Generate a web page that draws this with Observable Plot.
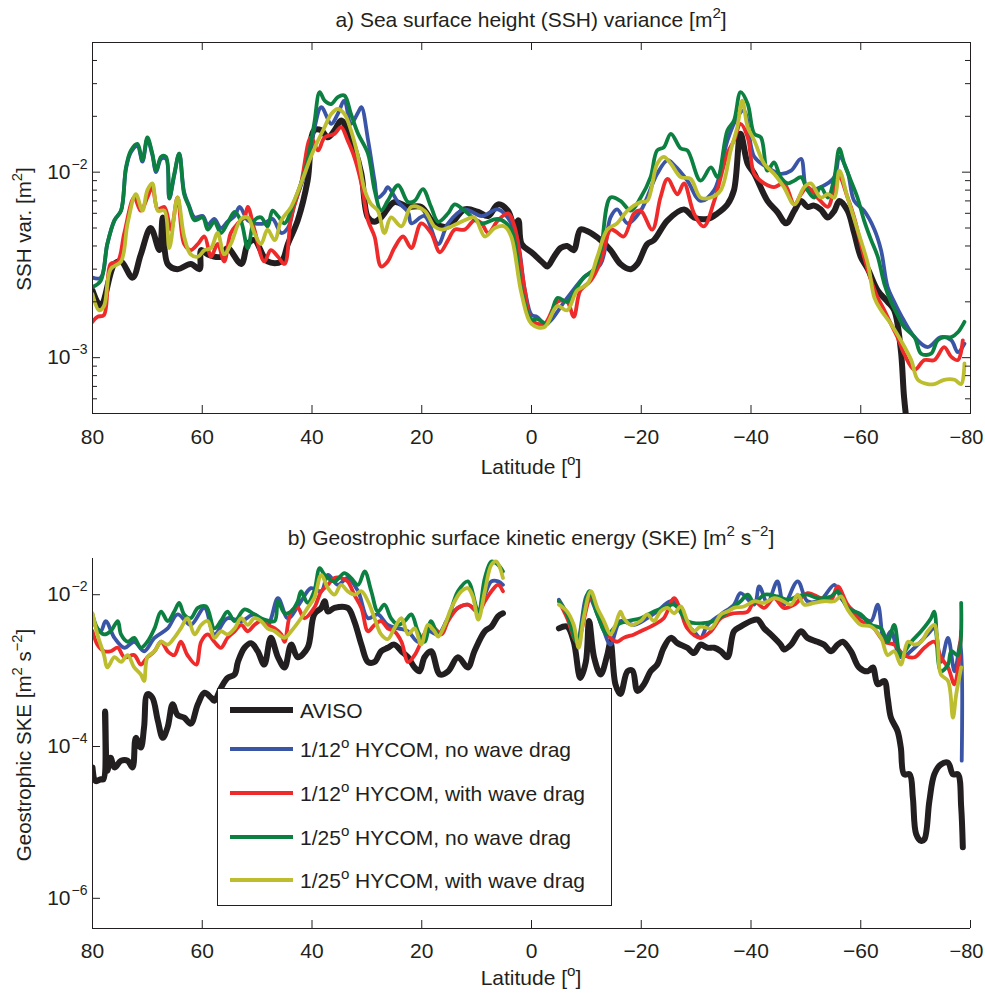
<!DOCTYPE html>
<html><head><meta charset="utf-8">
<script src="https://cdn.jsdelivr.net/npm/d3@7"></script>
<script src="https://cdn.jsdelivr.net/npm/@observablehq/plot@0.6"></script>
<style>body{margin:0;background:#fff}svg{display:block}</style>
</head><body><div id="chart"></div>
<script>
// ---------- series & styles ----------
const seriesNames = ["AVISO", "1/12° HYCOM, no wave drag", "1/12° HYCOM, with wave drag", "1/25° HYCOM, no wave drag", "1/25° HYCOM, with wave drag"];
const legendParts = [["AVISO"], ["1/12", {sup: "o"}, " HYCOM, no wave drag"], ["1/12", {sup: "o"}, " HYCOM, with wave drag"], ["1/25", {sup: "o"}, " HYCOM, no wave drag"], ["1/25", {sup: "o"}, " HYCOM, with wave drag"]];
const seriesColors = ["#231f20", "#3b55a6", "#ee2a2a", "#0c8040", "#bdbd30"];
const xTicks = [80, 60, 40, 20, 0, -20, -40, -60, -80];
const sshMajor = [1e-3, 1e-2];
const sshMinor = [6e-4, 7e-4, 8e-4, 9e-4, 2e-3, 3e-3, 4e-3, 5e-3, 6e-3, 7e-3, 8e-3, 9e-3, 2e-2, 3e-2, 4e-2];
const skeMajor = [1e-6, 1e-4, 1e-2];

// ---------- a) SSH variance [m^2], pairs [latitude, value] ----------
const sshAviso = [[80,0.0023],[78.5,0.0019],[76,0.0032],[74.8,0.0033],[72.7,0.0027],[71.2,0.0036],[69.4,0.005],[67.8,0.0038],[67.2,0.0057],[66.3,0.0032],[64.5,0.003],[62.1,0.0032],[60.5,0.003],[60.2,0.0038],[59,0.0036],[56.6,0.0035],[55.4,0.0039],[52.9,0.0032],[51.7,0.0041],[50.5,0.0043],[48.1,0.0033],[45.6,0.0033],[44.4,0.0041],[42.6,0.0055],[40.8,0.009],[39.6,0.0168],[38.3,0.0168],[37.1,0.0154],[35.9,0.0168],[34.7,0.019],[33.5,0.0168],[32.3,0.0136],[31,0.0098],[29.8,0.0057],[28.6,0.0054],[27.4,0.0057],[25,0.0069],[22.5,0.0065],[20.1,0.0065],[17.7,0.0053],[15.2,0.0051],[12.2,0.0063],[9.7,0.0061],[7.9,0.0058],[6.1,0.0067],[4.3,0.0062],[3.1,0.0051],[2.4,0.0055],[1.8,0.0041],[0,0.0037],[-2.3,0.0032],[-2.9,0.0031],[-4.1,0.0035],[-5.3,0.0039],[-6.5,0.004],[-7.7,0.0038],[-8.9,0.0049],[-10.2,0.0048],[-12.6,0.0043],[-14.4,0.0038],[-16.2,0.0032],[-18.1,0.003],[-19.3,0.0032],[-21.1,0.0041],[-22.3,0.0043],[-24.8,0.0055],[-27.8,0.0063],[-29.6,0.0057],[-32.1,0.0056],[-33.9,0.006],[-35.7,0.0067],[-36.9,0.008],[-38.1,0.0161],[-39.4,0.0111],[-40.6,0.0098],[-43,0.007],[-44.8,0.0061],[-46.4,0.0053],[-47.9,0.0062],[-49.1,0.007],[-50.3,0.0065],[-51.5,0.0066],[-52.7,0.0063],[-54,0.0057],[-55.2,0.0062],[-56.1,0.007],[-57.6,0.0062],[-58.8,0.0047],[-60,0.0035],[-61.3,0.003],[-63.1,0.0023],[-64.9,0.002],[-66.1,0.0018],[-67.3,0.0011],[-67.9,0.00061],[-68.9,0.00033]];
const sshBlue = [[80,0.0027],[78.5,0.0027],[77.3,0.0041],[76,0.0055],[74.8,0.0062],[73.9,0.0104],[73,0.0128],[71.8,0.0138],[70.9,0.0114],[70,0.015],[69.1,0.0124],[68.4,0.01],[67.5,0.0118],[66.6,0.0118],[66,0.0072],[65.1,0.0096],[64.2,0.0126],[63.3,0.0078],[62.4,0.0066],[61.4,0.0057],[59.9,0.0058],[59,0.0052],[57.8,0.0056],[56.6,0.005],[55.4,0.0054],[54.1,0.0058],[53.2,0.0065],[51.7,0.0055],[50.5,0.0053],[48.7,0.0053],[47.2,0.0056],[45.6,0.0047],[44.4,0.005],[43.2,0.0067],[42,0.0085],[40.8,0.011],[39.6,0.017],[38.3,0.0224],[36.5,0.0182],[35.3,0.0206],[34.1,0.0243],[32.9,0.0182],[31.6,0.021],[31,0.0224],[29.8,0.015],[28.6,0.009],[28,0.0073],[26.8,0.0078],[26.2,0.0083],[24.3,0.0069],[22.5,0.0061],[21.9,0.0053],[19.5,0.0058],[17,0.0041],[15.2,0.0053],[12.2,0.0063],[9.1,0.0058],[6.1,0.0063],[3.1,0.0049],[1.2,0.0023],[0,0.0017],[-1,0.00166],[-2.6,0.00152],[-6.5,0.0021],[-9.5,0.0027],[-12.6,0.0032],[-14.4,0.0057],[-15.6,0.0063],[-17.5,0.0053],[-19.9,0.0062],[-22.9,0.0098],[-24.8,0.0116],[-26,0.0109],[-28.4,0.009],[-30.8,0.007],[-33.3,0.008],[-35.7,0.0148],[-37.5,0.0198],[-38.7,0.0215],[-40.6,0.0121],[-43,0.0106],[-45.4,0.0098],[-47.3,0.0102],[-49.1,0.0118],[-50.3,0.008],[-52.7,0.0083],[-55.2,0.0094],[-56.1,0.0121],[-57.6,0.01],[-58.8,0.007],[-60.6,0.0062],[-62.5,0.0049],[-63.7,0.0038],[-64.9,0.0024],[-66.1,0.002],[-67.3,0.0017],[-69.8,0.00129],[-72.2,0.00114],[-74.6,0.00129],[-76.5,0.00124],[-77.7,0.00107],[-78.9,0.00119]];
const sshRed = [[80,0.00156],[79.1,0.00166],[77.9,0.0017],[76.7,0.0032],[75.4,0.0033],[74.2,0.0047],[72.4,0.0073],[71.2,0.0062],[70,0.0073],[69.1,0.0083],[68.1,0.0063],[66.9,0.0065],[65.7,0.0049],[64.5,0.0073],[63.3,0.0041],[62.1,0.0038],[60.8,0.0041],[59.6,0.0045],[58.4,0.0035],[57.2,0.0041],[56,0.0033],[54.8,0.0047],[53.5,0.0053],[52.3,0.0057],[51.7,0.0065],[50.5,0.0049],[48.7,0.0033],[47.5,0.0038],[46.2,0.0035],[45,0.0032],[43.8,0.0057],[42,0.0087],[40.2,0.0154],[38.9,0.0131],[37.7,0.0154],[35.9,0.0161],[34.7,0.0175],[33.5,0.0148],[32.3,0.0121],[31,0.0087],[29.8,0.0055],[28.6,0.0045],[27.4,0.0031],[26.2,0.0033],[25,0.0039],[23.4,0.0045],[21.9,0.0039],[20.1,0.0053],[18.3,0.0047],[16.7,0.0037],[15.2,0.0043],[14,0.0049],[12.2,0.0049],[10.4,0.0055],[9.1,0.0053],[7.9,0.0047],[6.1,0.0055],[4.3,0.006],[3.1,0.0051],[1.2,0.0023],[0,0.00159],[-2.3,0.00152],[-4.7,0.002],[-6.5,0.002],[-7.7,0.00166],[-8.9,0.0023],[-10.8,0.0026],[-12.6,0.0033],[-14.4,0.0049],[-15.3,0.0048],[-16.8,0.0045],[-18.7,0.006],[-19.9,0.0062],[-22,0.0049],[-23.5,0.0073],[-24.8,0.0092],[-26.6,0.0076],[-27.8,0.0087],[-29.6,0.006],[-31.4,0.0051],[-33.3,0.007],[-35.7,0.0126],[-36.9,0.0148],[-38.1,0.0182],[-39.4,0.0154],[-40.6,0.0098],[-42.4,0.0087],[-44.2,0.0083],[-46,0.0087],[-47.9,0.0067],[-49.1,0.0076],[-50.3,0.0083],[-52.1,0.0073],[-54,0.0065],[-55.2,0.0083],[-56.1,0.0094],[-57.6,0.0073],[-58.8,0.0057],[-60.6,0.0035],[-61.9,0.0026],[-63.1,0.0021],[-64.3,0.0018],[-65.5,0.00152],[-66.7,0.00129],[-67.9,0.00105],[-69.8,0.00086],[-71.6,0.00097],[-73.4,0.00097],[-75.2,0.00114],[-76.5,0.00101],[-77.7,0.00097],[-78.6,0.00124]];
const sshGreen = [[80,0.0024],[78.5,0.0026],[77.3,0.0041],[76,0.0055],[74.8,0.0062],[73.9,0.0106],[73,0.0131],[71.8,0.0142],[70.9,0.0116],[70,0.0154],[69.1,0.0126],[68.4,0.0102],[67.5,0.0121],[66.6,0.0121],[66,0.0073],[65.1,0.0098],[64.2,0.0126],[63.3,0.0076],[62.4,0.0065],[61.4,0.0055],[59.9,0.0057],[59,0.0049],[57.8,0.0054],[56.6,0.0047],[55.4,0.0053],[54.1,0.0061],[52.9,0.0054],[51.7,0.0039],[50.5,0.0055],[49.3,0.0057],[48.1,0.0051],[47.2,0.0062],[46.2,0.0058],[45,0.0053],[43.2,0.007],[42,0.0087],[40.8,0.0116],[39.6,0.0182],[38.6,0.027],[37.7,0.0243],[36.5,0.0233],[35.3,0.0254],[34.1,0.0259],[32.9,0.0206],[31.6,0.0161],[29.8,0.0126],[28.6,0.008],[27.4,0.0062],[26.2,0.007],[24.3,0.0085],[22.5,0.0069],[21.3,0.007],[19.8,0.0081],[18.3,0.0065],[17,0.0054],[15.2,0.006],[14,0.0067],[12.2,0.0062],[9.1,0.0053],[6.1,0.0056],[3.7,0.0049],[1.8,0.0023],[0,0.0016],[-1,0.00162],[-2.9,0.00152],[-4.7,0.0021],[-6.5,0.002],[-8.3,0.0024],[-9.5,0.0027],[-11.4,0.003],[-12.6,0.0038],[-14.4,0.0073],[-16.2,0.007],[-18.1,0.0062],[-19.9,0.0073],[-21.7,0.0094],[-22.9,0.0131],[-24.1,0.0136],[-25.4,0.0161],[-27.2,0.0134],[-28.4,0.0131],[-30.8,0.009],[-32.7,0.0106],[-33.9,0.0094],[-35.7,0.0168],[-36.9,0.019],[-38.1,0.027],[-39.4,0.0233],[-40.6,0.0161],[-41.8,0.0154],[-43,0.0102],[-44.2,0.0113],[-45.4,0.0094],[-46.7,0.0087],[-47.9,0.009],[-49.1,0.0094],[-50.3,0.008],[-51.5,0.0073],[-52.7,0.0083],[-54,0.0073],[-55.2,0.0094],[-56.1,0.0134],[-57,0.0111],[-58.2,0.009],[-59.4,0.0073],[-60.6,0.0055],[-61.9,0.0043],[-63.1,0.0035],[-64.3,0.0025],[-65.5,0.002],[-66.7,0.0017],[-67.9,0.00146],[-69.8,0.00129],[-71,0.00105],[-72.8,0.00105],[-74,0.00124],[-75.2,0.00129],[-76.5,0.00129],[-77.7,0.00137],[-78.9,0.00156]];
const sshYellow = [[80,0.0022],[78.8,0.0018],[77.9,0.0019],[76.7,0.003],[74.8,0.0033],[73.6,0.0053],[72.1,0.0076],[70.9,0.0062],[70,0.008],[69.1,0.0087],[68.1,0.0062],[66.9,0.0062],[66,0.0039],[64.5,0.0073],[63.3,0.0045],[62.1,0.0036],[60.8,0.0035],[59.6,0.0038],[58.4,0.0039],[57.2,0.0047],[56,0.0036],[54.8,0.0041],[52.9,0.0056],[51.7,0.0057],[50.5,0.0047],[49.3,0.0041],[48.1,0.0049],[46.8,0.0043],[45.6,0.0055],[43.8,0.0065],[42,0.0087],[40.2,0.0121],[38.9,0.0148],[37.7,0.0175],[36.5,0.0206],[35.3,0.0219],[34.1,0.0206],[32.9,0.0168],[31.6,0.0121],[30.4,0.008],[29.2,0.0067],[28,0.0062],[26.8,0.0047],[25.6,0.0057],[23.7,0.0051],[21.9,0.0065],[19.5,0.0062],[17.7,0.0051],[16.4,0.0049],[14.6,0.0051],[12.2,0.0055],[10.4,0.0057],[8.5,0.0045],[6.7,0.005],[4.9,0.0051],[3.7,0.0045],[1.8,0.0022],[0,0.00152],[-2.3,0.00146],[-4.7,0.0019],[-6.5,0.0018],[-8.3,0.0023],[-10.2,0.0025],[-12,0.0035],[-13.8,0.0049],[-15.6,0.0053],[-17.5,0.0062],[-19.9,0.0069],[-21.1,0.007],[-22.9,0.0111],[-24.1,0.0121],[-25.4,0.0111],[-27.2,0.0094],[-29,0.0092],[-30.8,0.0073],[-32.7,0.0073],[-34.5,0.008],[-36.3,0.0131],[-37.5,0.0175],[-38.4,0.0243],[-39.4,0.0175],[-40.6,0.0148],[-42.4,0.0111],[-44.2,0.0098],[-46,0.0083],[-47.9,0.0067],[-49.7,0.0083],[-50.9,0.0087],[-52.7,0.0073],[-54,0.0076],[-55.2,0.0073],[-56.1,0.0102],[-57.6,0.0073],[-59.4,0.0049],[-61.3,0.0032],[-62.5,0.0021],[-63.7,0.0018],[-65.5,0.00152],[-67.3,0.00124],[-69.2,0.00097],[-70.4,0.00076],[-72.2,0.00072],[-73.4,0.00072],[-75.2,0.00076],[-77.1,0.00076],[-78.3,0.00072],[-78.9,0.00093]];

// ---------- b) Geostrophic SKE [m^2 s^-2], pairs [latitude, value]; null = no data ----------
const skeAviso = [[80,5.3e-5],[79.4,3.5e-5],[78.5,3.7e-5],[78,3.7e-5],[77.7,2.9e-4],[77.3,4.8e-5],[76.7,7.1e-5],[76,5.3e-5],[74.8,6.5e-5],[73.6,6.5e-5],[72.7,5.3e-5],[72.1,1.3e-4],[71.2,9.7e-5],[70.6,1.8e-4],[70,4.9e-4],[69.1,4.4e-4],[68.1,2.2e-4],[67.2,1.3e-4],[66.3,1.8e-4],[65.4,3.6e-4],[64.5,2.6e-4],[63.3,2.4e-4],[62.1,2.0e-4],[60.8,3.6e-4],[59.6,5.1e-4],[58.4,4.4e-4],[57.8,4.0e-4],[56.6,5.9e-4],[55.4,8.0e-4],[54.1,8.9e-4],[53.5,1.3e-3],[52.3,2.0e-3],[51.1,2.3e-3],[49.9,1.8e-3],[48.7,1.2e-3],[47.5,2.7e-3],[46.2,1.5e-3],[45,1.1e-3],[43.8,2.2e-3],[42.6,1.5e-3],[40.8,2.0e-3],[39.6,5.5e-3],[38.3,6.7e-3],[37.7,8.2e-3],[37.1,6.0e-3],[35.9,6.7e-3],[33.5,6.7e-3],[32.3,4.5e-3],[31,2.2e-3],[29.8,1.3e-3],[28.6,1.3e-3],[27.4,1.8e-3],[26.2,2.0e-3],[25,2.2e-3],[23.7,1.8e-3],[22.5,1.5e-3],[21.3,1.1e-3],[20.4,9.8e-4],[19.5,1.5e-3],[18.3,1.8e-3],[16.7,8.9e-4],[15.2,9.8e-4],[13.4,1.5e-3],[11.6,1.1e-3],[10.4,1.8e-3],[8.5,3.3e-3],[7.3,3.8e-3],[6.1,5.2e-3],[5.2,5.7e-3],[0,null],[-5,3.6e-3],[-6.5,3.8e-3],[-7.7,2.4e-3],[-8.9,8.0e-4],[-9.9,1.3e-3],[-10.5,4.5e-3],[-11.4,1.5e-3],[-12.6,8.9e-4],[-13.8,1.6e-3],[-14.4,2.4e-3],[-15.3,6.6e-4],[-16.2,4.9e-4],[-17.5,9.8e-4],[-18.4,1.0e-3],[-19.3,5.4e-4],[-20.5,6.6e-4],[-21.7,9.8e-4],[-22.9,1.2e-3],[-24.1,2.0e-3],[-25.4,2.7e-3],[-26.6,2.3e-3],[-28.4,2.0e-3],[-29.6,1.7e-3],[-30.8,2.2e-3],[-32.1,2.0e-3],[-33.3,2.0e-3],[-34.5,1.8e-3],[-35.7,1.5e-3],[-36.9,3.3e-3],[-38.1,3.8e-3],[-40,4.5e-3],[-41.2,4.7e-3],[-42.4,3.6e-3],[-43.6,3.0e-3],[-45.4,2.2e-3],[-46,1.9e-3],[-47.3,2.2e-3],[-49.1,3.3e-3],[-50.3,2.7e-3],[-52.1,2.4e-3],[-53.3,2.2e-3],[-54.6,1.8e-3],[-55.8,2.2e-3],[-56.7,2.4e-3],[-58.2,1.8e-3],[-59.7,1.1e-3],[-61.3,9.8e-4],[-62.2,1.1e-3],[-63.1,6.6e-4],[-64.3,7.3e-4],[-64.9,4.4e-4],[-65.5,2.4e-4],[-66.7,1.6e-4],[-67.3,9.7e-5],[-67.9,4.3e-5],[-68.9,4.3e-5],[-69.5,2.1e-5],[-70.1,7.0e-6],[-71,5.7e-6],[-71.6,6.0e-6],[-72.5,1.9e-5],[-73.4,4.3e-5],[-74.6,5.8e-5],[-75.9,6.1e-5],[-76.8,4.3e-5],[-77.7,4.3e-5],[-78.3,1.6e-5],[-78.6,4.7e-6]];
const skeBlue = [[80,4.5e-3],[78.5,3.3e-3],[77.6,4.5e-3],[76,2.7e-3],[74.2,2.0e-3],[72.4,2.4e-3],[70.6,1.8e-3],[68.7,2.7e-3],[66.3,3.6e-3],[64.5,5.5e-3],[62.1,4.0e-3],[59.6,6.7e-3],[57.8,3.0e-3],[55.4,4.9e-3],[52.9,4.5e-3],[50.5,5.5e-3],[48.1,4.0e-3],[46.2,9.0e-3],[44.4,4.9e-3],[42,8.2e-3],[40.2,1.22e-2],[38.3,1.11e-2],[37.1,1.83e-2],[35.3,1.35e-2],[33.5,1.66e-2],[31.6,1.11e-2],[29.8,4.9e-3],[28,5.5e-3],[26.2,4.0e-3],[24.3,3.6e-3],[22.5,3.3e-3],[20.7,2.4e-3],[18.9,3.3e-3],[17,3.0e-3],[15.2,4.9e-3],[13.4,6.7e-3],[11.6,7.4e-3],[9.7,6.0e-3],[8.5,1.0e-2],[7.3,1.5e-2],[6.1,1.5e-2],[5.2,1.35e-2],[0,null],[-5,8.6e-3],[-6.5,5.5e-3],[-8.3,2.4e-3],[-10.2,1.0e-2],[-12,5.5e-3],[-13.2,3.3e-3],[-14.4,2.2e-3],[-16.2,4.5e-3],[-18.7,4.0e-3],[-21.1,4.9e-3],[-22.9,6.0e-3],[-25.4,8.2e-3],[-27.2,6.7e-3],[-28.4,4.0e-3],[-29.6,3.3e-3],[-30.8,2.7e-3],[-32.1,4.0e-3],[-34.5,5.5e-3],[-36.9,7.4e-3],[-38.1,1.05e-2],[-40.6,7.4e-3],[-41.5,1.29e-2],[-43,7.8e-3],[-44.8,1.5e-2],[-46,7.4e-3],[-48.5,1.5e-2],[-50.3,8.2e-3],[-52.7,8.6e-3],[-55.2,1.35e-2],[-56.4,9.0e-3],[-58.8,6.0e-3],[-60.6,4.9e-3],[-61.9,4.5e-3],[-63.1,7.4e-3],[-64.3,2.4e-3],[-65.5,3.3e-3],[-67.3,1.5e-3],[-69.8,2.0e-3],[-72.2,3.0e-3],[-73.4,3.6e-3],[-74.6,1.3e-3],[-75.9,2.7e-3],[-77.1,9.8e-4],[-78.2,2.4e-3],[-78.4,6.5e-5]];
const skeRed = [[80,3.3e-3],[79.1,2.2e-3],[77.9,1.8e-3],[76.7,1.8e-3],[75.4,2.0e-3],[74.2,1.5e-3],[72.4,1.6e-3],[71.2,1.2e-3],[70,1.5e-3],[68.7,1.8e-3],[67.5,2.4e-3],[66.3,1.8e-3],[65.1,1.6e-3],[63.9,2.4e-3],[62.7,1.6e-3],[61.1,1.2e-3],[60.2,2.4e-3],[59,3.0e-3],[57.8,2.4e-3],[56.6,2.0e-3],[55.4,2.7e-3],[54.1,3.3e-3],[52.9,4.0e-3],[51.7,3.3e-3],[50.5,4.0e-3],[49.3,4.5e-3],[48.1,4.0e-3],[46.8,3.6e-3],[45.6,3.0e-3],[45,2.4e-3],[43.8,6.0e-3],[42.6,6.7e-3],[41.4,4.9e-3],[39.6,6.7e-3],[38.3,1.11e-2],[37.1,1.35e-2],[35.9,1.66e-2],[34.7,1.66e-2],[33.5,1.5e-2],[32.3,1.0e-2],[31,6.7e-3],[29.8,3.3e-3],[28.6,4.0e-3],[27.4,4.5e-3],[26.2,3.6e-3],[25,3.3e-3],[23.7,2.4e-3],[22.5,1.3e-3],[21.3,1.6e-3],[20.1,2.4e-3],[18.9,3.6e-3],[17.7,3.6e-3],[16.4,3.0e-3],[15.2,4.5e-3],[13.4,6.7e-3],[11.6,7.4e-3],[9.7,6.0e-3],[8.5,8.2e-3],[7.3,1.11e-2],[6.1,1.35e-2],[5.2,1.11e-2],[0,null],[-5,8.2e-3],[-6.5,4.9e-3],[-8.3,2.4e-3],[-10.8,9.0e-3],[-12.6,4.5e-3],[-14.4,2.7e-3],[-15.6,2.4e-3],[-16.8,2.7e-3],[-18.7,3.0e-3],[-19.9,3.3e-3],[-22.3,4.0e-3],[-24.1,4.9e-3],[-26,9.0e-3],[-27.2,6.0e-3],[-28.4,3.6e-3],[-30.8,2.7e-3],[-32.7,3.3e-3],[-34.5,4.9e-3],[-36.9,5.7e-3],[-39.4,6.0e-3],[-40.6,8.2e-3],[-42.4,6.7e-3],[-44.2,9.0e-3],[-46,6.7e-3],[-47.9,7.4e-3],[-50.3,1.05e-2],[-52.7,9.0e-3],[-54.6,8.6e-3],[-55.8,1.29e-2],[-57.6,7.4e-3],[-60,4.5e-3],[-61.9,4.0e-3],[-64.3,2.4e-3],[-66.1,2.2e-3],[-67.9,1.6e-3],[-69.8,1.5e-3],[-71.6,2.0e-3],[-73.4,2.4e-3],[-74.6,1.5e-3],[-75.9,1.1e-3],[-77.1,6.6e-4],[-78.3,3.3e-3]];
const skeGreen = [[80,5.5e-3],[79.1,3.6e-3],[77.9,3.0e-3],[76.7,3.3e-3],[75.4,4.5e-3],[74.8,3.0e-3],[73.6,2.4e-3],[72.4,2.7e-3],[71.2,2.0e-3],[70,2.4e-3],[68.7,3.6e-3],[67.5,6.0e-3],[66.3,4.5e-3],[65.1,6.0e-3],[64.2,7.8e-3],[63.3,5.5e-3],[62.1,4.9e-3],[60.8,6.7e-3],[59.3,7.0e-3],[57.8,3.6e-3],[56.6,4.5e-3],[55.4,6.0e-3],[54.1,4.5e-3],[52.3,6.4e-3],[50.5,5.5e-3],[48.7,4.7e-3],[46.8,4.5e-3],[46.2,8.2e-3],[45,5.7e-3],[43.8,6.0e-3],[42.6,8.2e-3],[42,1.11e-2],[40.8,7.8e-3],[39.6,1.11e-2],[38.6,2.24e-2],[37.7,1.83e-2],[35.9,1.5e-2],[34.1,1.93e-2],[32.9,1.66e-2],[31.6,1.35e-2],[30.4,2.03e-2],[29.2,1.11e-2],[28,6.0e-3],[26.8,7.4e-3],[25.6,4.9e-3],[24.3,4.0e-3],[23.1,4.5e-3],[21.9,5.5e-3],[20.7,3.3e-3],[19.5,2.4e-3],[18.3,4.5e-3],[17,3.0e-3],[15.2,4.9e-3],[13.4,1.11e-2],[11.6,1.5e-2],[9.7,6.0e-3],[8.5,1.66e-2],[7.3,2.74e-2],[6.1,2.48e-2],[5.2,2.03e-2],[0,null],[-5,8.2e-3],[-6.5,5.5e-3],[-8.3,2.4e-3],[-10.5,1.11e-2],[-12,5.5e-3],[-13.8,3.0e-3],[-15.6,4.0e-3],[-17.5,4.5e-3],[-19.9,4.9e-3],[-22.3,6.0e-3],[-24.1,6.7e-3],[-26,7.4e-3],[-28.4,4.5e-3],[-30.8,4.2e-3],[-33.3,4.5e-3],[-35.1,5.5e-3],[-36.9,7.0e-3],[-38.1,8.2e-3],[-39.4,1.0e-2],[-40.6,7.8e-3],[-42.4,1.0e-2],[-44.8,9.5e-3],[-46.7,8.6e-3],[-48.5,9.5e-3],[-50.3,1.0e-2],[-52.1,9.0e-3],[-54.6,9.5e-3],[-55.8,1.11e-2],[-57.6,6.7e-3],[-60,5.5e-3],[-61.9,4.0e-3],[-63.7,3.6e-3],[-64.9,2.4e-3],[-66.1,4.0e-3],[-67.3,1.6e-3],[-69.2,2.4e-3],[-71,3.3e-3],[-72.8,4.9e-3],[-73.4,6.0e-3],[-74.6,9.8e-4],[-75.9,1.2e-3],[-76.5,1.8e-3],[-77.7,1.6e-3],[-78.3,7.8e-3]];
const skeYellow = [[80,5.7e-3],[79.1,3.0e-3],[77.9,1.6e-3],[77.3,1.1e-3],[76,1.5e-3],[74.8,1.3e-3],[73.6,1.6e-3],[72.4,1.1e-3],[71.2,8.9e-4],[70.6,7.3e-4],[70,1.5e-3],[68.7,1.8e-3],[67.5,2.4e-3],[66.3,2.2e-3],[65.1,2.7e-3],[63.9,3.6e-3],[62.7,4.9e-3],[61.4,3.0e-3],[60.2,4.0e-3],[59,4.5e-3],[57.8,2.7e-3],[56.6,3.3e-3],[55.4,3.0e-3],[54.1,3.6e-3],[52.9,4.9e-3],[51.7,4.0e-3],[50.5,4.9e-3],[49.3,4.5e-3],[48.1,3.6e-3],[46.8,3.3e-3],[45,2.7e-3],[43.8,3.3e-3],[42,4.9e-3],[40.8,6.7e-3],[39.6,9.0e-3],[38.3,1.83e-2],[37.1,1.22e-2],[35.9,1.0e-2],[34.7,1.35e-2],[33.5,1.11e-2],[32.3,1.0e-2],[31,1.11e-2],[29.8,8.2e-3],[28.6,4.9e-3],[27.4,3.0e-3],[26.2,2.6e-3],[25,3.6e-3],[23.7,4.9e-3],[22.5,3.0e-3],[21.3,3.6e-3],[20.1,2.2e-3],[18.9,4.0e-3],[17.7,3.3e-3],[17,2.8e-3],[15.8,4.0e-3],[14.6,6.7e-3],[12.8,1.11e-2],[11.6,1.22e-2],[10.7,9.5e-3],[9.7,4.7e-3],[8.5,1.11e-2],[7.3,2.48e-2],[6.4,2.74e-2],[5.2,1.66e-2],[0,null],[-5,7.4e-3],[-6.5,6.0e-3],[-7.7,4.0e-3],[-8.6,2.0e-3],[-9.5,4.9e-3],[-10.8,1.11e-2],[-12,6.7e-3],[-13.2,4.5e-3],[-14.4,3.0e-3],[-15.3,4.0e-3],[-16.2,6.0e-3],[-16.8,4.9e-3],[-18.1,4.0e-3],[-19.9,4.5e-3],[-21.1,5.5e-3],[-22.3,4.5e-3],[-23.5,6.0e-3],[-24.8,6.7e-3],[-26,5.7e-3],[-27.2,7.0e-3],[-28.4,4.5e-3],[-29.6,3.3e-3],[-30.8,3.8e-3],[-32.7,3.6e-3],[-34.5,5.5e-3],[-35.7,6.0e-3],[-36.9,6.7e-3],[-38.7,7.0e-3],[-40.6,8.2e-3],[-42.4,7.8e-3],[-44.2,9.0e-3],[-45.4,8.6e-3],[-47.3,7.4e-3],[-48.5,1.0e-2],[-49.7,7.4e-3],[-51.5,7.8e-3],[-53.3,8.2e-3],[-55.2,8.2e-3],[-56.4,9.5e-3],[-57.6,6.4e-3],[-58.8,4.9e-3],[-60,4.0e-3],[-61.9,3.8e-3],[-63.7,2.7e-3],[-64.9,1.6e-3],[-66.1,1.8e-3],[-67.3,1.2e-3],[-68.6,2.4e-3],[-69.8,2.2e-3],[-71,2.4e-3],[-72.2,3.3e-3],[-73.4,4.0e-3],[-74,2.4e-3],[-74.6,8.9e-4],[-75.9,7.3e-4],[-76.8,2.4e-4],[-77.4,4.9e-4],[-78.3,1.1e-3]];

const sshData = [sshAviso, sshBlue, sshRed, sshGreen, sshYellow];
const skeData = [skeAviso, skeBlue, skeRed, skeGreen, skeYellow];

// ---------- layout ----------
const ink = "#231f20";
const W = 985, ML = 92, MR = 15;
const innerW = W - ML - MR;
const topH = 490, topMT = 42, topMB = 77, topInner = topH - topMT - topMB;
const botH = 504, botMT = 68, botMB = 66, botInner = botH - botMT - botMB;
const FONT = "'Liberation Sans', Arial, Helvetica, sans-serif";
const fmtLat = d => d < 0 ? "\u2212" + (-d) : String(d);
const expo = d => "\u2212" + Math.round(-Math.log10(d));
const widthOf = i => i === 0 ? 6 : 3.8;
const innerTicks = xTicks.filter(d => d > -80);
const edgeTicks = xTicks.filter(d => d <= -80);

function seriesMarks(data) {
  return data.map((arr, i) => Plot.line(arr, {
    x: d => d[0], y: d => d[1], stroke: seriesColors[i], strokeWidth: widthOf(i),
    curve: "catmull-rom", strokeLinejoin: "round", strokeLinecap: "round", clip: true
  }));
}
function yLabelMarks(ticks) {
  return [
    Plot.text(ticks, {y: d => d, frameAnchor: "left", dx: -22, textAnchor: "end", text: () => "10", fontSize: 21, fill: ink}),
    Plot.text(ticks, {y: d => d, frameAnchor: "left", dx: -21, dy: -8, textAnchor: "start", text: expo, fontSize: 14, fill: ink})
  ];
}
function xLabelMarks(dy) {
  return [
    Plot.text(innerTicks, {x: d => d, frameAnchor: "bottom", dy, text: fmtLat, fontSize: 21, fill: ink}),
    Plot.text(edgeTicks, {x: d => d, frameAnchor: "bottom", dy, dx: -4, text: fmtLat, fontSize: 20, fill: ink})
  ];
}

const topPlot = Plot.plot({
  width: W, height: topH, marginTop: topMT, marginBottom: topMB, marginLeft: ML, marginRight: MR,
  style: {fontFamily: FONT, background: "white", overflow: "visible"},
  x: {domain: [80, -80], axis: null},
  y: {type: "log", domain: [5e-4, 5e-2], axis: null},
  marks: [
    ...seriesMarks(sshData),
    Plot.frame({stroke: ink, strokeWidth: 1}),
    Plot.tickX(xTicks, {x: d => d, insetTop: topInner - 8, stroke: ink}),
    Plot.tickX(xTicks, {x: d => d, insetBottom: topInner - 8, stroke: ink}),
    Plot.tickY(sshMajor, {y: d => d, insetRight: innerW - 8, stroke: ink}),
    Plot.tickY(sshMajor, {y: d => d, insetLeft: innerW - 8, stroke: ink}),
    Plot.tickY(sshMinor, {y: d => d, insetRight: innerW - 5, stroke: ink}),
    Plot.tickY(sshMinor, {y: d => d, insetLeft: innerW - 5, stroke: ink}),
    ...xLabelMarks(30),
    ...yLabelMarks(sshMajor)
  ]
});

const botPlot = Plot.plot({
  width: W, height: botH, marginTop: botMT, marginBottom: botMB, marginLeft: ML, marginRight: MR,
  style: {fontFamily: FONT, background: "white", overflow: "visible"},
  x: {domain: [80, -80], axis: null},
  y: {type: "log", domain: [4e-7, 3e-2], axis: null},
  marks: [
    ...seriesMarks(skeData),
    Plot.ruleX([80], {stroke: ink, strokeWidth: 1}),
    Plot.ruleY([4e-7], {stroke: ink, strokeWidth: 1}),
    Plot.tickX(xTicks, {x: d => d, insetTop: botInner - 8, stroke: ink}),
    Plot.tickY(skeMajor, {y: d => d, insetRight: innerW - 8, stroke: ink}),
    ...xLabelMarks(29),
    ...yLabelMarks(skeMajor)
  ]
});

// ---------- rich text (superscripts) ----------
function rich(svg, x, y, parts, size, opts = {}) {
  const t = d3.select(svg).append("text")
    .attr("x", x).attr("y", y)
    .attr("text-anchor", opts.anchor || "middle")
    .attr("font-size", size).attr("fill", ink);
  if (opts.rotate) t.attr("transform", `rotate(${opts.rotate} ${x} ${y})`);
  const shift = size * 0.42;
  let raised = false;
  for (const p of parts) {
    const sup = typeof p === "object";
    const s = t.append("tspan").text(sup ? p.sup : p);
    if (sup) { s.attr("font-size", size * 0.72); if (!raised) { s.attr("dy", -shift); raised = true; } }
    else if (raised) { s.attr("dy", shift); raised = false; }
  }
  return t;
}
const cx = ML + innerW / 2;
rich(topPlot, cx, 27, ["a) Sea surface height (SSH) variance [m", {sup: "2"}, "]"], 21);
rich(topPlot, cx, 474, ["Latitude [", {sup: "o"}, "]"], 21);
rich(topPlot, 31, 229, ["SSH var. [m", {sup: "2"}, "]"], 20.5, {rotate: -90});

rich(botPlot, cx, 55, ["b) Geostrophic surface kinetic energy (SKE) [m", {sup: "2"}, " s", {sup: "\u22122"}, "]"], 21);
rich(botPlot, cx, 495, ["Latitude [", {sup: "o"}, "]"], 21);
rich(botPlot, 31, 255, ["Geostrophic SKE [m", {sup: "2"}, " s", {sup: "\u22122"}, "]"], 20.5, {rotate: -90});

// ---------- legend ----------
const lg = d3.select(botPlot).append("g");
lg.append("rect").attr("x", 217.5).attr("y", 198.5).attr("width", 394).attr("height", 217)
  .attr("fill", "white").attr("stroke", ink).attr("stroke-width", 1);
const rowsY = [220, 259, 303, 347, 390];
seriesNames.forEach((name, i) => {
  lg.append("line").attr("x1", 230).attr("x2", 293).attr("y1", rowsY[i]).attr("y2", rowsY[i])
    .attr("stroke", seriesColors[i]).attr("stroke-width", i === 0 ? 6 : 3.8);
  rich(botPlot, 300, rowsY[i] + 8, legendParts[i], 21, {anchor: "start"}).attr("aria-label", name);
});

const root = document.getElementById("chart");
root.append(topPlot, botPlot);
</script>
</body></html>
